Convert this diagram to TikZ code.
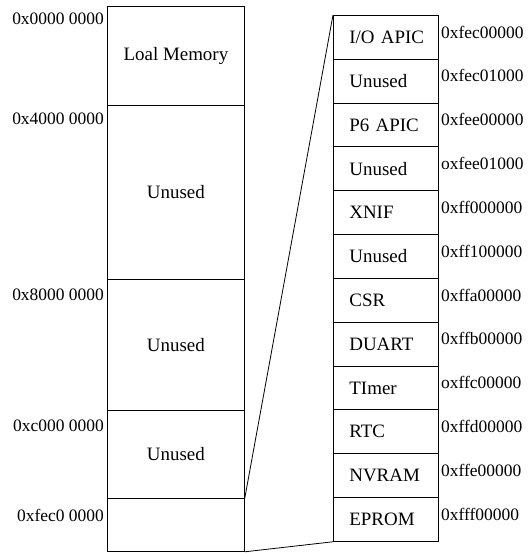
\documentclass[tikz,border=0pt]{standalone}
\usepackage{fontspec}
\setmainfont{Liberation Serif}
\begin{document}
\begin{tikzpicture}[x=1bp,y=-1bp,
  line/.style={draw=black,line width=0.8bp},
  region/.style={line, inner sep=0pt, anchor=north west, font=\fontsize{19}{22}\selectfont},
  rregion/.style={region, text width=73bp, inner xsep=16bp, align=left},
  laddr/.style={anchor=east, inner sep=0pt, font=\fontsize{17.5}{20}\selectfont},
  raddr/.style={anchor=west, inner sep=0pt, font=\fontsize{17.5}{20}\selectfont}]
\useasboundingbox (0,0) rectangle (530,553);
% left column
\node[region, minimum width=137bp, minimum height=99bp] (l1) at (107,6) {Loal Memory};
\node[region, minimum width=137bp, minimum height=174bp] (l2) at (107,105) {Unused};
\node[region, minimum width=137bp, minimum height=131bp] (l3) at (107,279) {Unused};
\node[region, minimum width=137bp, minimum height=88bp] (l4) at (107,410) {Unused};
\node[region, minimum width=137bp, minimum height=53bp] (l5) at (107,498) {};
% left addresses
\node[laddr] (a1) at (104,19) {0x0000 0000};
\node[laddr] (a2) at (104,119) {0x4000 0000};
\node[laddr] (a3) at (104,295) {0x8000 0000};
\node[laddr] (a4) at (104,426) {0xc000 0000};
\node[laddr] (a5) at (104,515) {0xfec0 0000};
% right column
\foreach \i/\t/\a in {0/I{/}O APIC/0xfec00000, 1/Unused/0xfec01000, 2/P6 APIC/0xfee00000,
  3/Unused/oxfee01000, 4/XNIF/0xff000000, 5/Unused/0xff100000, 6/CSR/0xffa00000,
  7/DUART/0xffb00000, 8/TImer/oxffc00000, 9/RTC/0xffd00000, 10/NVRAM/0xffe00000,
  11/EPROM/0xfff00000}{
  \node[rregion, minimum height=43.83bp] (r\i) at (333,15+43.83*\i) {\mbox{\t}};
  \node[raddr] (ra\i) at (441,32+43.83*\i) {\a};
}
% zoom connectors
\draw[line] (l5.north east) -- (r0.north west);
\draw[line] (l5.south east) -- (r11.south west);
\end{tikzpicture}
\end{document}
